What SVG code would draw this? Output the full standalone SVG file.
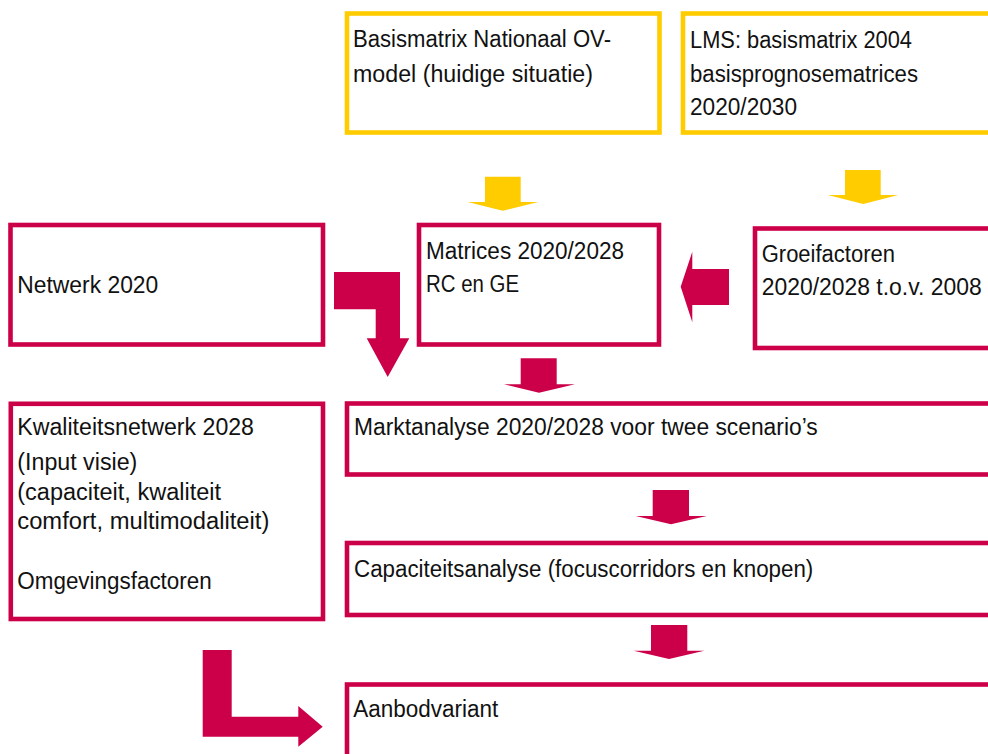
<svg xmlns="http://www.w3.org/2000/svg" width="988" height="754" viewBox="0 0 988 754">
<style>
.yb{fill:#fff;stroke:#FFCC00;stroke-width:4.6}
.rb{fill:#fff;stroke:#CC0049;stroke-width:4.6}
.ya{fill:#FFCC00}
.ra{fill:#CC0049}
text{font-family:"Liberation Sans",Arial,sans-serif;font-size:23px;fill:#111}
</style>
<rect width="988" height="754" fill="#fff"/>
<g id="basismatrix">
<rect class="yb" x="347" y="13.5" width="312.5" height="119"/>
<text x="353" y="46.7" textLength="258" lengthAdjust="spacingAndGlyphs">Basismatrix Nationaal OV-</text>
<text x="353" y="81.7" textLength="240" lengthAdjust="spacingAndGlyphs">model (huidige situatie)</text>
</g>
<g id="lms">
<rect class="yb" x="683" y="13.5" width="320" height="119"/>
<text x="690" y="47.7" textLength="222" lengthAdjust="spacingAndGlyphs">LMS: basismatrix 2004</text>
<text x="690" y="81.7" textLength="228" lengthAdjust="spacingAndGlyphs">basisprognosematrices</text>
<text x="690" y="115" textLength="107" lengthAdjust="spacingAndGlyphs">2020/2030</text>
</g>
<g id="netwerk">
<rect class="rb" x="10.5" y="225" width="312.5" height="119.5"/>
<text x="17.3" y="293" textLength="141" lengthAdjust="spacingAndGlyphs">Netwerk 2020</text>
</g>
<g id="matrices">
<rect class="rb" x="419" y="225" width="240" height="119.5"/>
<text x="426" y="259" textLength="198" lengthAdjust="spacingAndGlyphs">Matrices 2020/2028</text>
<text x="426" y="292.3" textLength="93" lengthAdjust="spacingAndGlyphs">RC en GE</text>
</g>
<g id="groeifactoren">
<rect class="rb" x="755" y="228.5" width="250" height="119.5"/>
<text x="761.7" y="261.7" textLength="133.3" lengthAdjust="spacingAndGlyphs">Groeifactoren</text>
<text x="761.7" y="295" textLength="220" lengthAdjust="spacingAndGlyphs">2020/2028 t.o.v. 2008</text>
</g>
<g id="kwaliteitsnetwerk">
<rect class="rb" x="10.8" y="403.8" width="312.2" height="215.2"/>
<text x="17.3" y="435" textLength="236.7" lengthAdjust="spacingAndGlyphs">Kwaliteitsnetwerk 2028</text>
<text x="17.3" y="470" textLength="120" lengthAdjust="spacingAndGlyphs">(Input visie)</text>
<text x="17.3" y="500" textLength="203.7" lengthAdjust="spacingAndGlyphs">(capaciteit, kwaliteit</text>
<text x="17.3" y="529.3" textLength="252" lengthAdjust="spacingAndGlyphs">comfort, multimodaliteit)</text>
<text x="17.3" y="589.3" textLength="194.4" lengthAdjust="spacingAndGlyphs">Omgevingsfactoren</text>
</g>
<g id="marktanalyse">
<rect class="rb" x="347" y="403.5" width="660" height="71"/>
<text x="354" y="435" textLength="463.7" lengthAdjust="spacingAndGlyphs">Marktanalyse 2020/2028 voor twee scenario’s</text>
</g>
<g id="capaciteitsanalyse">
<rect class="rb" x="347" y="543" width="660" height="72"/>
<text x="354" y="577" textLength="459.3" lengthAdjust="spacingAndGlyphs">Capaciteitsanalyse (focuscorridors en knopen)</text>
</g>
<g id="aanbodvariant">
<rect class="rb" x="347" y="684.5" width="660" height="100"/>
<text x="353.3" y="717.3" textLength="145" lengthAdjust="spacingAndGlyphs">Aanbodvariant</text>
</g>
<g id="connectors">
<polygon class="ya" points="485,176.7 520.7,176.7 520.7,202 538.3,202 502.7,210.7 467.7,202 485,202"/>
<polygon class="ya" points="845,170 880.7,170 880.7,195 898.3,195 863.3,204 827.7,195 845,195"/>
<polygon class="ra" points="729,269 692.3,269 692.3,251.7 680.7,286.7 692.3,322.3 692.3,305 729,305"/>
<polygon class="ra" points="334,272 400,272 400,338.3 409.3,338.3 387.7,377 366.7,338.3 375.7,338.3 375.7,309.3 334,309.3"/>
<polygon class="ra" points="520.7,358.3 556.7,358.3 556.7,384.3 575,384.3 539,392.7 504,384.3 520.7,384.3"/>
<polygon class="ra" points="652.7,490 689,490 689,516 706.7,516 671,524.3 635.7,516 652.7,516"/>
<polygon class="ra" points="651,625 687.3,625 687.3,650.7 704.3,650.7 669,659 633.7,650.7 651,650.7"/>
<polygon class="ra" points="202.7,650 231.7,650 231.7,716.7 298.3,716.7 298.3,706 322.7,726.7 298.3,746.7 298.3,736.7 202.7,736.7"/>
</g>
</svg>
